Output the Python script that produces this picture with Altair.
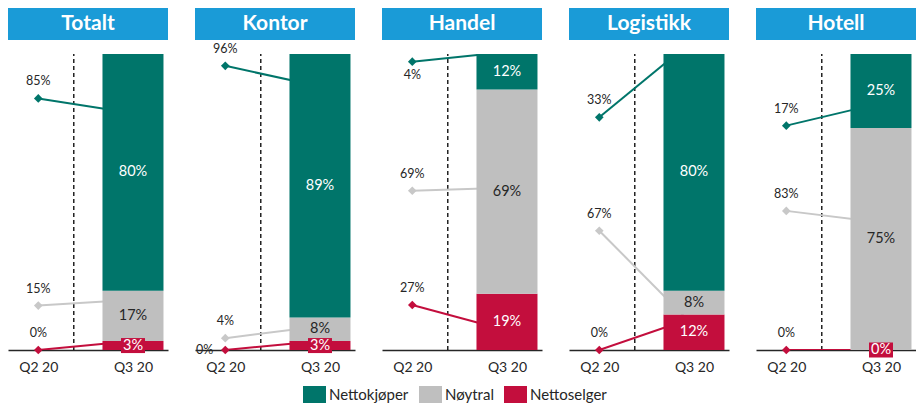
import altair as alt
import pandas as pd

sectors = ["Totalt", "Kontor", "Handel", "Logistikk", "Hotell"]
groups = ["Nettokjøper", "Nøytral", "Nettoselger"]
group_colors = ["#00756A", "#BFBFBF", "#C30E3D"]
line_colors = ["#00756A", "#C8C8C8", "#C30E3D"]
periods = ["Q2 20", "Q3 20"]

# Q3 20: stacked shares in the bars (%)
q3_kjoper = [80, 89, 12, 80, 25]
q3_noytral = [17, 8, 69, 8, 75]
q3_selger = [3, 3, 19, 12, 0]

# Q2 20: values written next to the points (%)
q2_kjoper = [85, 96, 4, 33, 17]
q2_noytral = [15, 4, 69, 67, 83]
q2_selger = [0, 0, 27, 0, 0]

# level of the connector lines as drawn in the source (%): Q2 point and Q3 end
line_q2_kjoper = [85, 96, 97.4, 78.6, 75.8]
line_q2_noytral = [15, 4, 53.8, 40.3, 47]
line_q2_selger = [0, 0, 15.2, 0, 0]
line_q3_kjoper = [80, 89, 100.7, 104.9, 83.4]
line_q3_noytral = [17, 8, 54.8, 8, 43.1]
line_q3_selger = [3, 3, 6.6, 11, 0]

# side of the point where a Q2 label sits (default: above)
q2_label_side = {("Handel", "Nettokjøper"): "below", ("Kontor", "Nettoselger"): "left"}

FONT = "Lato"
TXT = "#262626"
HEADER_BLUE = "#1A9BD7"
W, H = 160, 296

color_scale = alt.Scale(domain=groups, range=group_colors)
x_scale = alt.Scale(domain=[-0.267, 1.317], nice=False, zero=False)
y_scale = alt.Scale(domain=[0, 100], nice=False, zero=True)
box_shape = "M-1.6,-1H1.6V1H-1.6Z"


def panel(i):
    s = sectors[i]
    q3 = [q3_kjoper[i], q3_noytral[i], q3_selger[i]]
    q2 = [q2_kjoper[i], q2_noytral[i], q2_selger[i]]
    l2 = [line_q2_kjoper[i], line_q2_noytral[i], line_q2_selger[i]]
    l3 = [line_q3_kjoper[i], line_q3_noytral[i], line_q3_selger[i]]

    bars = []
    base = 0
    for g_idx in [2, 1, 0]:
        v = q3[g_idx]
        bars.append({
            "group": groups[g_idx], "period": 1, "y0": base, "y1": base + v,
            "mid": base + v / 2, "label": f"{v}%",
            "tcol": TXT if g_idx == 1 else "white",
            "small": bool(v < 5), "col": group_colors[g_idx],
        })
        base += v
    bars_df = pd.DataFrame(bars)

    lines = []
    pts = []
    for g_idx, g in enumerate(groups):
        lines.append({"group": g, "period": 0, "val": l2[g_idx], "col": line_colors[g_idx]})
        lines.append({"group": g, "period": 1, "val": l3[g_idx], "col": line_colors[g_idx]})
        pts.append({"group": g, "period": 0, "val": l2[g_idx], "col": line_colors[g_idx],
                    "label": f"{q2[g_idx]}%", "side": q2_label_side.get((s, g), "above")})
    lines_df = pd.DataFrame(lines)
    pts_df = pd.DataFrame(pts)

    x_enc = alt.X("period:Q", scale=x_scale, axis=alt.Axis(
        values=[0, 1], labelExpr="datum.value == 0 ? 'Q2 20' : 'Q3 20'",
        ticks=False, grid=False, domainColor=TXT, domainWidth=1.5, labelFontSize=14,
        labelFont=FONT, labelColor=TXT, labelPadding=10, labelFlush=False, title=None))
    x_plain = alt.X("period:Q", scale=x_scale)

    divider = alt.Chart(pd.DataFrame({"period": [0.375], "lo": [0], "hi": [100]})).mark_rule(
        color="black", strokeDash=[4, 3], strokeWidth=1.3
    ).encode(x=x_enc, y=alt.Y("lo:Q", scale=y_scale, axis=None), y2="hi:Q")

    line = alt.Chart(lines_df).mark_line(strokeWidth=2, clip=True).encode(
        x=x_plain,
        y=alt.Y("val:Q", scale=y_scale),
        detail="group:N",
        stroke=alt.Stroke("col:N", scale=None),
    )
    points = alt.Chart(pts_df).mark_point(shape="diamond", filled=True, size=75, opacity=1).encode(
        x=x_plain,
        y=alt.Y("val:Q", scale=y_scale),
        fill=alt.Fill("col:N", scale=None),
    )
    bar = alt.Chart(bars_df).mark_bar(size=61).encode(
        x=x_plain,
        y=alt.Y("y0:Q", scale=y_scale),
        y2="y1:Q",
        color=alt.Color("group:N", scale=color_scale, sort=groups, legend=alt.Legend(
            title=None, orient="none", direction="horizontal", legendX=298, legendY=378,
            symbolType="M-1.35,-1H1.35V1H-1.35Z", symbolSize=289, symbolStrokeWidth=0,
            symbolOpacity=1, labelFont=FONT, labelFontSize=15, labelColor=TXT,
            labelOffset=6, columnPadding=10)),
    )
    boxes = alt.Chart(bars_df).transform_filter("datum.small").mark_point(
        shape=box_shape, size=225, filled=True, opacity=1
    ).encode(
        x=x_plain,
        y=alt.Y("mid:Q", scale=y_scale),
        fill=alt.Fill("col:N", scale=None),
    )
    bar_text = alt.Chart(bars_df).mark_text(font=FONT, fontSize=14.5, baseline="middle").encode(
        x=x_plain,
        y=alt.Y("mid:Q", scale=y_scale),
        text="label:N",
        fill=alt.Fill("tcol:N", scale=None),
    )
    above = alt.Chart(pts_df).transform_filter("datum.side == 'above'").mark_text(
        font=FONT, fontSize=12.5, color=TXT, baseline="middle", dy=-17
    ).encode(x=x_plain, y=alt.Y("val:Q", scale=y_scale), text="label:N")
    below = alt.Chart(pts_df).transform_filter("datum.side == 'below'").mark_text(
        font=FONT, fontSize=12.5, color=TXT, baseline="middle", dy=13
    ).encode(x=x_plain, y=alt.Y("val:Q", scale=y_scale), text="label:N")
    left = alt.Chart(pts_df).transform_filter("datum.side == 'left'").mark_text(
        font=FONT, fontSize=12.5, color=TXT, baseline="middle", align="right", dx=-12
    ).encode(x=x_plain, y=alt.Y("val:Q", scale=y_scale), text="label:N")

    plot = alt.layer(divider, line, points, bar, boxes, bar_text, above, below, left).properties(
        width=W, height=H)

    header = alt.Chart(pd.DataFrame({"t": [s]})).mark_text(
        font=FONT, fontSize=21, fontWeight="bold", color="white", baseline="middle", align="center"
    ).encode(text="t:N", x=alt.value(W / 2), y=alt.value(16)).properties(
        width=W, height=32, view=alt.ViewBackground(fill=HEADER_BLUE, strokeWidth=0))

    return alt.vconcat(header, plot, spacing=14, bounds="flush")


chart = alt.hconcat(*[panel(i) for i in range(len(sectors))], spacing=27).properties(
    padding=0, background="white").configure_view(strokeWidth=0)

chart.save("out.html", embed_options={"renderer": "svg", "actions": False})
